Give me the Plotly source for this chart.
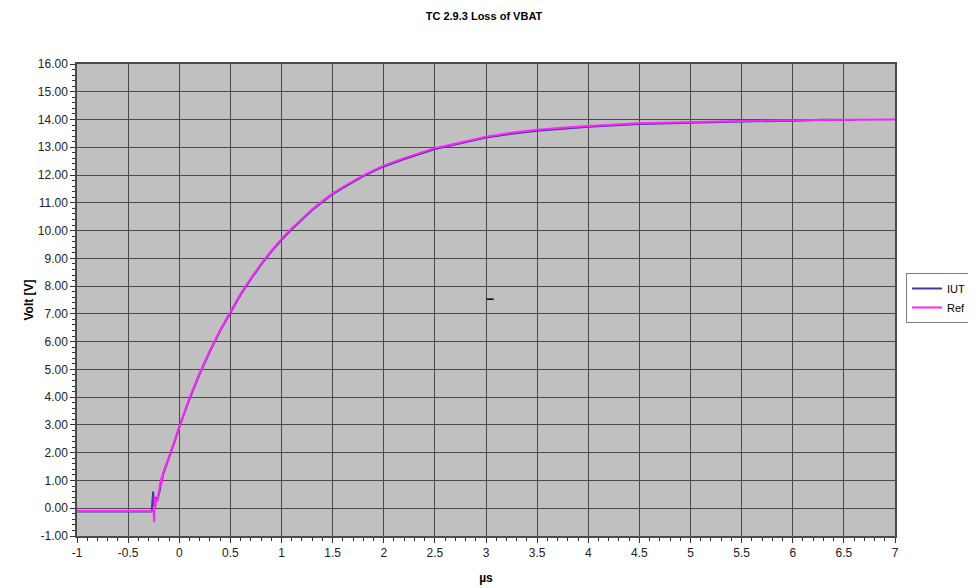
import plotly.graph_objects as go

title_text = "TC 2.9.3 Loss of VBAT"
x_title = "µs"
y_title = "Volt [V]"

ref_t = [-1.0, -0.5, -0.27, -0.25, -0.245, -0.24, -0.235, -0.225, -0.215, -0.2, -0.19,
         -0.175, -0.17, -0.16, -0.1, -0.05, 0.0, 0.1, 0.2, 0.3, 0.4, 0.5, 0.6, 0.7, 0.8,
         0.9, 1.0, 1.1, 1.2, 1.3, 1.4, 1.5, 1.6, 1.7, 1.8, 1.9, 2.0, 2.2, 2.4, 2.5, 2.6,
         2.8, 3.0, 3.25, 3.5, 3.75, 4.0, 4.5, 5.0, 5.5, 6.0, 6.5, 7.0]
ref_v = [-0.10, -0.10, -0.10, -0.10, -0.50, 0.45, 0.00, 0.35, 0.25, 0.55, 0.70,
         1.10, 0.90, 1.25, 1.85, 2.40, 2.95, 3.97, 4.87, 5.68, 6.42, 7.06, 7.72, 8.28, 8.80,
         9.27, 9.70, 10.08, 10.44, 10.77, 11.06, 11.34, 11.57, 11.79, 11.99, 12.17, 12.34, 12.61, 12.85, 12.97, 13.05,
         13.22, 13.38, 13.52, 13.63, 13.70, 13.77, 13.87, 13.92, 13.95, 13.97, 13.99, 14.00]

iut_t = [-1.0, -0.5, -0.27, -0.255, -0.25, -0.24, -0.235, -0.225, -0.215, -0.2, -0.19,
         -0.175, -0.17, -0.16, -0.1, -0.05, 0.0, 0.1, 0.2, 0.3, 0.4, 0.5, 0.6, 0.7, 0.8,
         0.9, 1.0, 1.1, 1.2, 1.3, 1.4, 1.5, 1.6, 1.7, 1.8, 1.9, 2.0, 2.2, 2.4, 2.5, 2.6,
         2.8, 3.0, 3.25, 3.5, 3.75, 4.0, 4.5, 4.7, 5.0, 5.5, 6.0, 6.3, 6.6]
iut_v = [-0.12, -0.12, -0.12, 0.60, 0.10, 0.30, 0.20, 0.40, 0.30, 0.50, 0.65,
         1.05, 0.95, 1.20, 1.80, 2.35, 2.92, 3.94, 4.84, 5.65, 6.39, 7.03, 7.69, 8.25, 8.77,
         9.24, 9.67, 10.05, 10.41, 10.74, 11.03, 11.31, 11.54, 11.76, 11.96, 12.14, 12.31, 12.58, 12.82, 12.94, 13.02,
         13.19, 13.35, 13.49, 13.60, 13.67, 13.74, 13.84, 13.86, 13.90, 13.93, 13.96, 13.99, 13.98]

stray_t = [3.04]
stray_v = [7.53]

x_ticks = [-1, -0.5, 0, 0.5, 1, 1.5, 2, 2.5, 3, 3.5, 4, 4.5, 5, 5.5, 6, 6.5, 7]
y_ticks = list(range(-1, 17))

fig = go.Figure()
fig.add_trace(go.Scatter(x=iut_t, y=iut_v, mode="lines", name="IUT",
                         line=dict(color="#3a3aa0", width=2)))
fig.add_trace(go.Scatter(x=ref_t, y=ref_v, mode="lines", name="Ref",
                         line=dict(color="#ff22ff", width=2)))
fig.add_trace(go.Scatter(x=stray_t, y=stray_v, mode="markers", showlegend=False,
                         marker=dict(symbol="line-ew", size=5, color="black",
                                     line=dict(color="black", width=1.5))))

font_family = "Liberation Sans, Arial, sans-serif"

# page has an 8px body margin, so the figure is 968x580 and offset by 8px
fig.update_layout(
    width=968, height=580,
    margin=dict(l=69, r=81, t=56, b=52, autoexpand=False),
    paper_bgcolor="white",
    plot_bgcolor="#c0c0c0",
    font=dict(family=font_family, size=12, color="#222222"),
    title=dict(text="<b>" + title_text + "</b>", xref="container", x=0.4917,
               xanchor="center", yref="container", y=0.986, yanchor="middle",
               font=dict(size=11, color="black")),
    legend=dict(xref="container", yref="container", x=0.9959, y=0.5,
                xanchor="right", yanchor="middle",
                bgcolor="white", bordercolor="#808080", borderwidth=1,
                font=dict(size=11, color="black"), tracegroupgap=2,
                itemwidth=30),
    showlegend=True,
)

fig.update_xaxes(
    range=[-1, 7], tickvals=x_ticks, ticktext=[f"{v:g}" for v in x_ticks],
    showgrid=True, gridcolor="#4a4a4a", gridwidth=1.3,
    showline=True, linecolor="#4a4a4a", linewidth=1.5, mirror=True,
    ticks="outside", ticklen=5, tickcolor="#333333",
    minor=dict(dtick=0.1, ticks="outside", ticklen=3, tickcolor="#333333", showgrid=False),
    zeroline=False, automargin=False,
    title=dict(text="<b>" + x_title + "</b>", font=dict(size=12, color="black"), standoff=14),
    tickfont=dict(size=12, color="#222222"),
)
fig.update_yaxes(
    range=[-1, 16], tickvals=y_ticks, ticktext=[f"{v:.2f}" for v in y_ticks],
    showgrid=True, gridcolor="#4a4a4a", gridwidth=1.3,
    showline=True, linecolor="#4a4a4a", linewidth=1.5, mirror=True,
    ticks="outside", ticklen=5, tickcolor="#333333",
    minor=dict(dtick=0.2, ticks="outside", ticklen=3, tickcolor="#333333", showgrid=False),
    zeroline=False, automargin=False,
    title=dict(text="<b>" + y_title + "</b>", font=dict(size=12, color="black"), standoff=2),
    tickfont=dict(size=12, color="#222222"),
)

fig.write_html("out.html")
